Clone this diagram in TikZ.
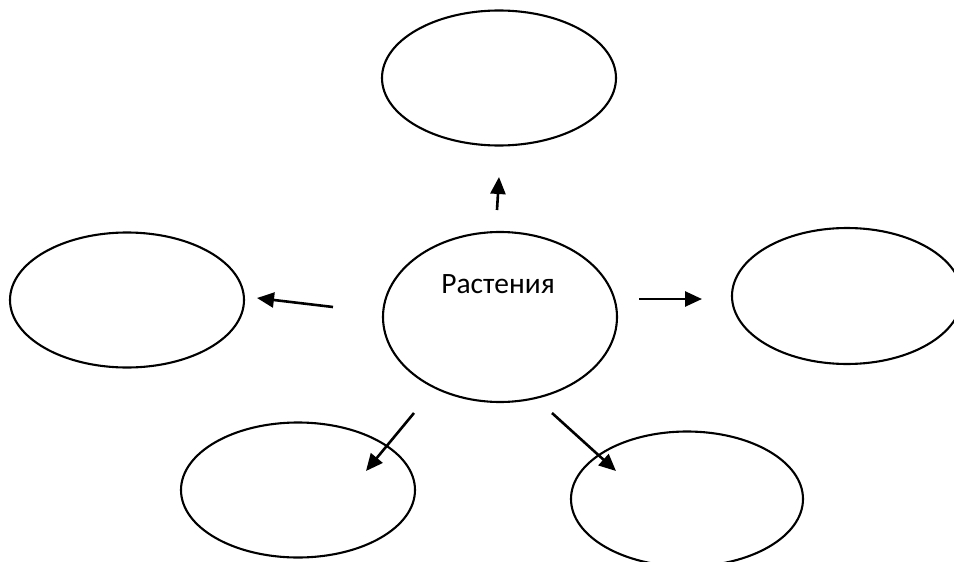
\documentclass[tikz,border=0pt]{standalone}
\usepackage{fontspec}
\setmainfont{Carlito}
\usetikzlibrary{shapes.geometric,arrows.meta}
\tikzset{
  blob/.style={draw=black, line width=2.1pt, ellipse, inner sep=0pt,
    minimum width=234pt, minimum height=135pt},
  arr/.style={draw=black, line width=2.6pt,
    -{Triangle[length=17pt,width=15pt]}, shorten >=0pt}
}
\begin{document}
\begin{tikzpicture}[x=1pt,y=-1pt]
\useasboundingbox (0,0) rectangle (954,562);
\fill[white] (0,0) rectangle (954,562);
% ellipses
\node[blob] (top) at (499,78) {};
\node[blob] (left) at (127,300) {};
\node[blob, minimum height=170pt] (center) at (500,317) {};
\node[blob, minimum width=230pt, minimum height=136pt] (right) at (847,296) {};
\node[blob] (bl) at (298,490) {};
\node[blob, minimum width=232pt] (br) at (687,499) {};
\node[font=\fontsize{29.5}{34}\selectfont, inner sep=0pt] (label) at (498,284) {Растения};
% arrow end points
\coordinate (t0) at (497,210); \coordinate (t1) at (499,177);
\coordinate (l0) at (333,307); \coordinate (l1) at (257,298);
\coordinate (r0) at (639,299); \coordinate (r1) at (702,299);
\coordinate (bl0) at (414,413); \coordinate (bl1) at (366,471);
\coordinate (br0) at (552,413); \coordinate (br1) at (616,471);
\draw[arr] (t0) -- (t1);
\draw[arr] (l0) -- (l1);
\draw[arr] (r0) -- (r1);
\draw[arr] (bl0) -- (bl1);
\draw[arr] (br0) -- (br1);
\end{tikzpicture}
\end{document}
